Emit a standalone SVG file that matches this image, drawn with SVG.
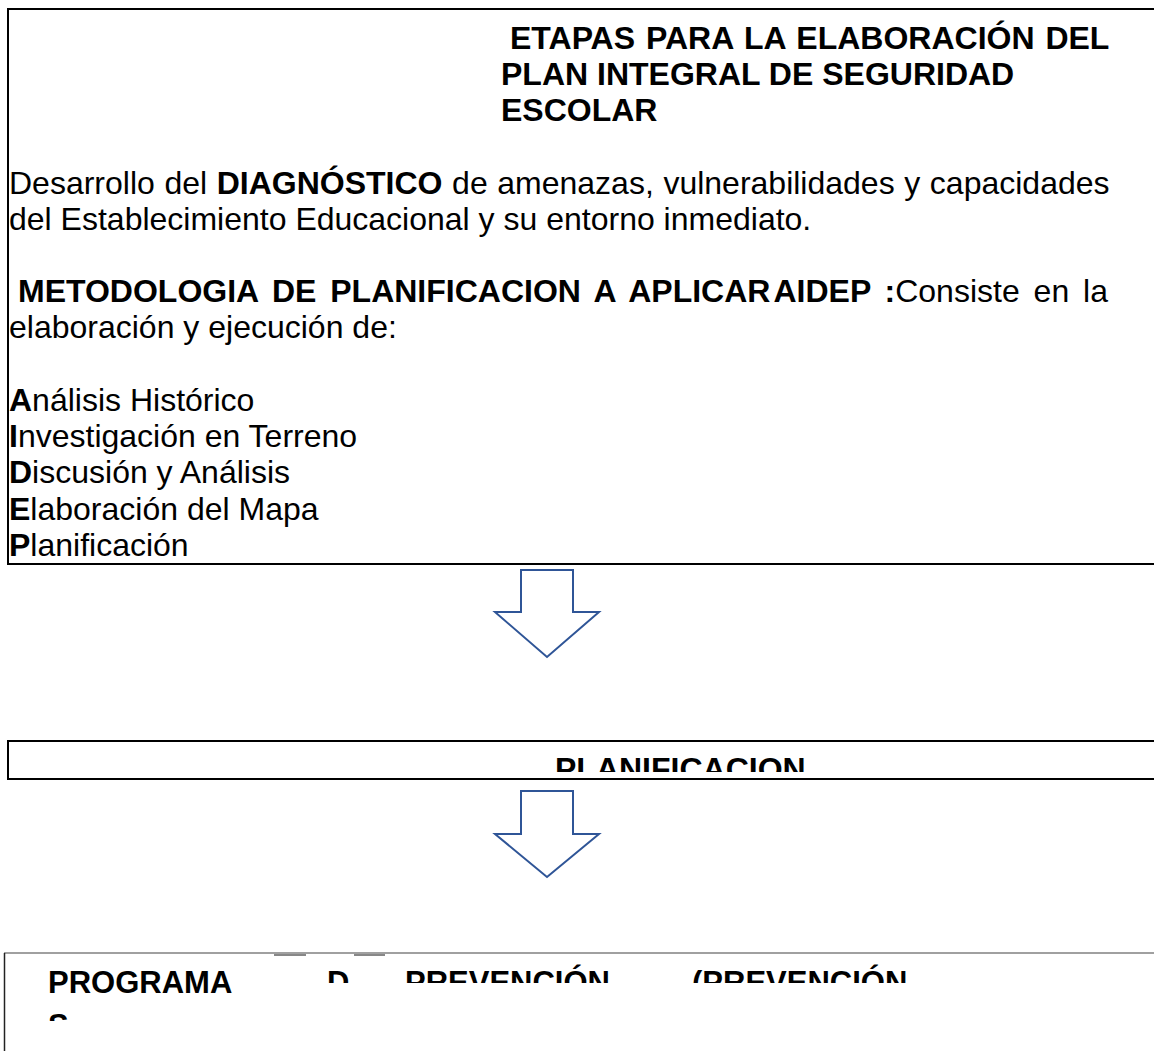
<svg xmlns="http://www.w3.org/2000/svg" width="1154" height="1051" viewBox="0 0 1154 1051">
<style>
  text { font-family: "Liberation Sans", Arial, sans-serif; font-size: 32px; fill: #000; }
  .b { font-weight: bold; }
  .s31 { font-size: 31px; }
  .box { fill: #fff; stroke: #000; stroke-width: 2; }
  .arrow { fill: #fff; stroke: #2F5597; stroke-width: 2; stroke-linejoin: miter; }
</style>
<defs>
  <clipPath id="clipMid"><rect x="8" y="742" width="1146" height="30"/></clipPath>
  <clipPath id="clipRow1"><rect x="300" y="955" width="854" height="28"/></clipPath>
  <clipPath id="clipRow2"><rect x="5" y="1000" width="400" height="21"/></clipPath>
</defs>

<g id="node-etapas">
  <rect class="box" x="8" y="9" width="1160" height="555"/>
  <text class="b" x="510" y="49" word-spacing="2">ETAPAS PARA LA ELABORACIÓN DEL</text>
  <text class="b" x="501" y="85">PLAN INTEGRAL DE SEGURIDAD</text>
  <text class="b" x="501" y="121">ESCOLAR</text>
  <text x="9" y="194" word-spacing="0.7">Desarrollo del <tspan class="b">DIAGNÓSTICO</tspan> de amenazas, vulnerabilidades y capacidades</text>
  <text x="9" y="230">del Establecimiento Educacional y su entorno inmediato.</text>
  <text x="18" y="302" word-spacing="5"><tspan class="b">METODOLOGIA DE PLANIFICACION A APLICAR</tspan><tspan class="b" dx="3">AIDEP :</tspan>Consiste en la</text>
  <text x="9" y="338">elaboración y ejecución de:</text>
  <text x="9" y="411"><tspan class="b">A</tspan>nálisis Histórico</text>
  <text x="9" y="447"><tspan class="b">I</tspan>nvestigación en Terreno</text>
  <text x="9" y="483"><tspan class="b">D</tspan>iscusión y Análisis</text>
  <text x="9" y="520"><tspan class="b">E</tspan>laboración del Mapa</text>
  <text x="9" y="556"><tspan class="b">P</tspan>lanificación</text>
</g>

<g id="node-planificacion">
  <rect class="box" x="8" y="741" width="1160" height="38"/>
  <g clip-path="url(#clipMid)">
    <text class="b" x="555" y="780">PLANIFICACION</text>
  </g>
</g>

<g id="node-programas">
  <line x1="4" y1="953" x2="1154" y2="953" stroke="#808080" stroke-width="1.5"/>
  <line x1="4.5" y1="953" x2="4.5" y2="1051" stroke="#222" stroke-width="1.5"/>
  <line x1="274" y1="955" x2="306" y2="955" stroke="#888" stroke-width="2"/>
  <line x1="354" y1="955" x2="385" y2="955" stroke="#888" stroke-width="2"/>
  <text class="b s31" x="48" y="993">PROGRAMA</text>
  <g clip-path="url(#clipRow1)">
    <text class="b s31" x="327" y="993">D</text>
    <text class="b s31" x="405" y="993">PREVENCIÓN</text>
    <text class="b s31" x="692" y="993">(PREVENCIÓN</text>
  </g>
  <g clip-path="url(#clipRow2)">
    <text class="b s31" x="48" y="1036">S</text>
  </g>
</g>

<g id="connectors">
  <path class="arrow" d="M521,570 H573 V612 H599 L547,657 L495,612 H521 Z"/>
  <path class="arrow" d="M521,791 H573 V834 H599 L547,877 L495,834 H521 Z"/>
</g>
</svg>
